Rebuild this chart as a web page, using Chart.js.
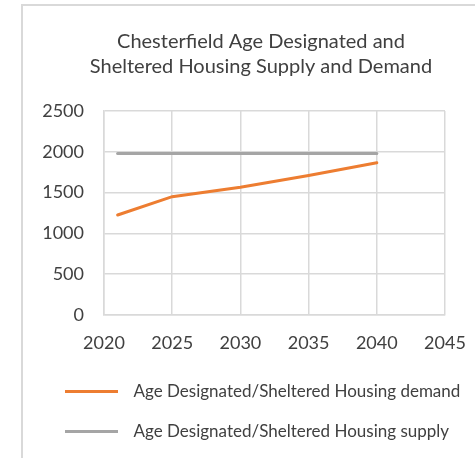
<!DOCTYPE html>
<html>
<head>
<meta charset="utf-8">
<script src="https://cdn.jsdelivr.net/npm/chart.js@4"></script>
<style>
  html, body { margin: 0; padding: 0; background: #fff; overflow: hidden; }
  #frame {
    position: absolute; left: 21px; top: 4px;
    border-left: 2px solid #d9d9d9; border-top: 2px solid #d9d9d9;
  }
  canvas { display: block; }
</style>
</head>
<body>
<div id="frame"><canvas id="housingChart" width="476" height="452"></canvas></div>
<script>
const titleLines = ["Chesterfield Age Designated and", "Sheltered Housing Supply and Demand"];
const years = [2021, 2025, 2030, 2035, 2040];
const demand = [1225, 1450, 1565, 1710, 1865];
const supply = [1980, 1980, 1980, 1980, 1980];
const seriesNames = ["Age Designated/Sheltered Housing demand", "Age Designated/Sheltered Housing supply"];
const xTicks = [2020, 2025, 2030, 2035, 2040, 2045];
const yTicks = [0, 500, 1000, 1500, 2000, 2500];

document.addEventListener("DOMContentLoaded", function () {
    const ctx = document.getElementById("housingChart").getContext("2d");
    const textColor = "#404040";
    const gridColor = "#d9d9d9";
    const toPoints = (vals) => years.map((y, i) => ({ x: y, y: vals[i] }));

    new Chart(ctx, {
        type: "line",
        data: {
            datasets: [{
                label: seriesNames[0],
                data: toPoints(demand),
                borderColor: "#ED7D31",
                backgroundColor: "#ED7D31",
                borderWidth: 3,
                pointRadius: 0,
                tension: 0,
                borderCapStyle: "round"
            }, {
                label: seriesNames[1],
                data: toPoints(supply),
                borderColor: "#A5A5A5",
                backgroundColor: "#A5A5A5",
                borderWidth: 3,
                pointRadius: 0,
                tension: 0,
                borderCapStyle: "round"
            }]
        },
        options: {
            responsive: false,
            animation: false,
            layout: { padding: { left: 19, right: 19, top: 0, bottom: 8 } },
            scales: {
                x: {
                    type: "linear",
                    min: xTicks[0],
                    max: xTicks[xTicks.length - 1],
                    afterBuildTicks: (s) => { s.ticks = xTicks.map(v => ({ value: v })); },
                    grid: { color: gridColor, lineWidth: 1.5, drawTicks: false },
                    border: { color: gridColor, width: 1.5 },
                    ticks: {
                        color: textColor, font: { family: "Lato", size: 18 }, padding: 17, maxRotation: 0,
                        callback: (v) => String(v)
                    },
                    afterFit: (s) => { s.height = 45; }
                },
                y: {
                    min: yTicks[0],
                    max: yTicks[yTicks.length - 1],
                    afterBuildTicks: (s) => { s.ticks = yTicks.map(v => ({ value: v })); },
                    grid: { color: gridColor, lineWidth: 1.5, drawTicks: false },
                    border: { color: gridColor, width: 1.5 },
                    ticks: {
                        color: textColor, font: { family: "Lato", size: 18 }, padding: 20,
                        callback: (v) => String(v)
                    },
                    afterFit: (s) => { s.width = 62; }
                },
                rightSpace: {
                    position: "right",
                    grid: { display: false },
                    border: { display: false },
                    ticks: { display: false },
                    afterFit: (s) => { s.width = 35; }
                }
            },
            plugins: {
                title: {
                    display: true,
                    text: titleLines,
                    color: textColor,
                    font: { family: "Lato", size: 20, weight: "normal", lineHeight: 1.25 },
                    padding: { top: 23, bottom: 32 }
                },
                legend: {
                    position: "bottom",
                    align: "start",
                    labels: {
                        color: textColor,
                        font: { family: "Lato", size: 17 },
                        boxWidth: 60,
                        boxHeight: 0,
                        padding: 23,
                        generateLabels: function (chart) {
                            const items = Chart.defaults.plugins.legend.labels.generateLabels(chart);
                            items.forEach(function (item) {
                                item.fillStyle = "rgba(0,0,0,0)";
                                item.lineWidth = 3;
                                item.lineDash = [53, 200];
                                item.lineCap = "butt";
                            });
                            return items;
                        }
                    }
                },
                tooltip: { enabled: false }
            }
        }
    });
});
</script>
</body>
</html>
